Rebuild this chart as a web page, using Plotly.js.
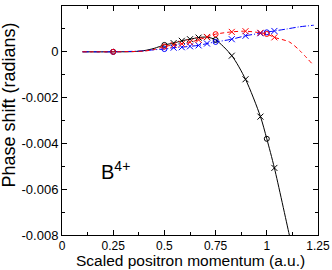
<!DOCTYPE html>
<html><head><meta charset="utf-8">
<script src="https://cdn.plot.ly/plotly-3.0.1.min.js"></script>
<style>html,body{margin:0;padding:0;background:#fff}#c{width:332px;height:270px}</style>
</head><body><div id="c"></div>
<script>
// Curves (smooth lines)
const blackLineX = [0.1, 0.25, 0.35, 0.4, 0.45, 0.5, 0.545, 0.585, 0.625, 0.667, 0.708, 0.75, 0.829, 0.896, 0.969, 1.0, 1.037, 1.11, 1.125];
const blackLineY = [0, 0, 0.00001, 0.00005, 0.00015, 0.0003, 0.00038, 0.00048, 0.00055, 0.00062, 0.00064, 0.00052, -0.00017, -0.0012, -0.00283, -0.0038, -0.00507, -0.008, -0.0086];
const redLineX = [0.1, 0.25, 0.4, 0.45, 0.5, 0.545, 0.585, 0.625, 0.667, 0.708, 0.75, 0.829, 0.896, 0.969, 1.0, 1.037, 1.11, 1.159, 1.224];
const redLineY = [0, 0, 0.00003, 0.0001, 0.00023, 0.0003, 0.00035, 0.00042, 0.00052, 0.00065, 0.00077, 0.00087, 0.0009, 0.00083, 0.00078, 0.00063, 0.00043, 0.00007, -0.00055];
const blueLineX = [0.1, 0.25, 0.4, 0.45, 0.5, 0.545, 0.585, 0.625, 0.667, 0.708, 0.75, 0.829, 0.896, 0.969, 1.037, 1.1, 1.159, 1.229];
const blueLineY = [0, 0, 0.00004, 0.00009, 0.00012, 0.00018, 0.0002, 0.00024, 0.00028, 0.00036, 0.00043, 0.00055, 0.0007, 0.00081, 0.00091, 0.001, 0.00109, 0.00116];

// Sample points: crosses
const crossX = [0.545, 0.585, 0.625, 0.667, 0.708, 0.829, 0.896, 0.969, 1.037];
const blackCrossY = [0.00038, 0.00048, 0.00055, 0.00062, 0.00064, -0.00017, -0.0012, -0.00283, -0.00507];
const redCrossY = [0.0003, 0.00035, 0.00042, 0.00052, 0.00065, 0.00087, 0.0009, 0.00083, 0.00063];
const blueCrossY = [0.00018, 0.0002, 0.00024, 0.00028, 0.00036, 0.00055, 0.0007, 0.00081, 0.00091];

// Sample points: circles
const circleX = [0.25, 0.5, 0.75, 1.0];
const blackCircleY = [0, 0.0003, 0.00052, -0.0038];
const redCircleY = [0, 0.00023, 0.00077, 0.00078];
const blueCircleY = [0, 0.00012, 0.00043, 0.00085];

const yTickVals = [0.002, 0, -0.002, -0.004, -0.006, -0.008];
const yTickText = ["0.002", "0", "-0.002", "-0.004", "-0.006", "-0.008"];

const xTitle = 'Scaled positron momentum (a.u.)';
const yTitle = 'Phase shift (radians)';
const ionLabel = 'B<sup>4+</sup>';

const cBlack = '#000000', cRed = '#ff0000', cBlue = '#0000ff';

function line(x, y, color, dash) {
  return {x, y, mode: 'lines', type: 'scatter', line: {color, width: 1, dash, shape: 'spline', smoothing: 0.8}, hoverinfo: 'skip'};
}
function marks(x, y, color, symbol, size) {
  return {x, y, mode: 'markers', type: 'scatter', marker: {symbol, size, color, line: {color, width: 1}}};
}

const data = [
  line(blackLineX, blackLineY, cBlack, 'solid'),
  line(blueLineX, blueLineY, cBlue, '6px,2px,1px,2px'),
  line(redLineX, redLineY, cRed, '4px,3px'),
  marks(crossX, blackCrossY, cBlack, 'x-thin-open', 6),
  marks(circleX, blackCircleY, cBlack, 'circle-open', 5),
  marks(crossX, blueCrossY, cBlue, 'x-thin-open', 6),
  marks(circleX, blueCircleY, cBlue, 'circle-open', 5),
  marks(crossX, redCrossY, cRed, 'x-thin-open', 6),
  marks(circleX, redCircleY, cRed, 'circle-open', 5)
];

const fam = 'Liberation Sans, Arial, sans-serif';
const f = (size) => ({family: fam, size, color: '#000'});
const layout = {
  width: 332, height: 270,
  margin: {l: 62, r: 14, t: 6, b: 35},
  paper_bgcolor: '#fff', plot_bgcolor: '#fff',
  showlegend: false,
  font: f(12),
  xaxis: {
    range: [0, 1.25], dtick: 0.25, tick0: 0,
    ticks: 'inside', ticklen: 5, tickwidth: 1, tickcolor: '#000',
    minor: {dtick: 0.125, ticks: 'inside', ticklen: 3, tickcolor: '#000'},
    showline: true, linecolor: '#000', linewidth: 1, mirror: 'ticks',
    showgrid: false, zeroline: false,
    tickfont: f(12)
  },
  yaxis: {
    range: [-0.008, 0.002], tickmode: 'array', tickvals: yTickVals, ticktext: yTickText,
    ticks: 'inside', ticklen: 5, tickwidth: 1, tickcolor: '#000',
    minor: {dtick: 0.001, tick0: 0, ticks: 'inside', ticklen: 3, tickcolor: '#000'},
    showline: true, linecolor: '#000', linewidth: 1, mirror: 'ticks',
    showgrid: false, zeroline: false,
    tickfont: f(13)
  },
  annotations: [
    {x: 0.5, y: -0.1528, xref: 'paper', yref: 'paper', xanchor: 'center', yanchor: 'bottom',
     showarrow: false, text: xTitle, font: f(15.5), borderpad: 0},
    {x: -0.207, y: 0.565, xref: 'paper', yref: 'paper', xanchor: 'center', yanchor: 'middle',
     textangle: -90, showarrow: false, text: yTitle, font: f(18)},
    {x: 0.183, y: -0.0052, xref: 'x', yref: 'y', xanchor: 'left', yanchor: 'middle',
     showarrow: false, text: ionLabel, font: f(20)}
  ]
};
Plotly.newPlot('c', data, layout, {staticPlot: true, displayModeBar: false});
</script></body></html>
